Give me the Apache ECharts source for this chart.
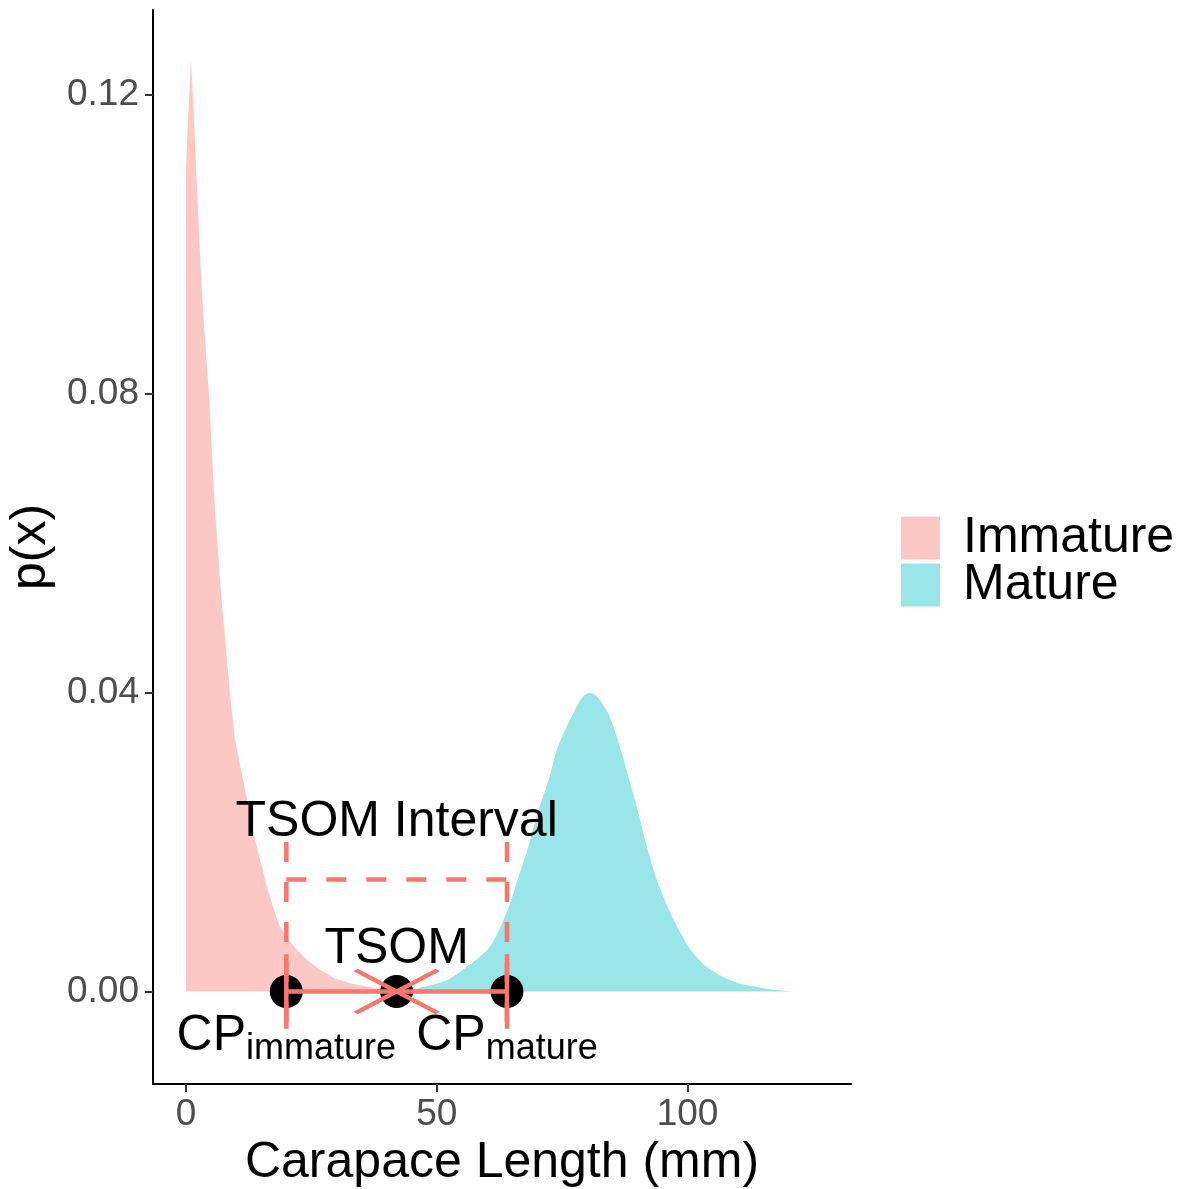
<!DOCTYPE html>
<html>
<head>
<meta charset="utf-8">
<title>Carapace length densities</title>
<script src="https://cdn.jsdelivr.net/npm/echarts@6/dist/echarts.min.js"></script>
<style>
  html, body { margin: 0; padding: 0; background: #ffffff; }
  #chart { width: 1182px; height: 1189px; }
</style>
</head>
<body>
<div id="chart"></div>
<script>
// Density of carapace length for immature individuals (x in mm, p(x))
const immatureX = [0, 0.35, 1.0, 1.66, 2.65, 3.25, 4.65, 5.65, 7.1, 8.9, 9.77, 11.76, 13.76, 16.3, 18.4, 20, 22.1, 24, 26.7, 29.5, 32.7, 38, 45, 50];
const immatureY = [0.110, 0.116, 0.1247, 0.1157, 0.1006, 0.0926, 0.0792, 0.0658, 0.0524, 0.0390, 0.0337, 0.0270, 0.0203, 0.0136, 0.0092, 0.0072, 0.0056, 0.0043, 0.0029, 0.0018, 0.0011, 0.0004, 0.0001, 0.0];

// Density of carapace length for mature individuals
const matureX = [40, 44, 46.7, 52, 56, 60.6, 63.9, 66.1, 68.3, 70.1, 72.3, 74.2, 77.2, 79, 80.6, 82.3, 84.2, 86.5, 88.4, 90.2, 91.9, 93.9, 96.6, 100.2, 103.8, 108.5, 114.5, 121];
const matureY = [0.0, 0.0002, 0.0005, 0.0015, 0.0033, 0.0060, 0.0105, 0.0149, 0.0194, 0.0239, 0.0283, 0.0328, 0.0372, 0.0394, 0.0400, 0.0392, 0.0372, 0.0328, 0.0283, 0.0239, 0.0194, 0.0149, 0.0105, 0.0060, 0.0033, 0.0015, 0.0005, 0.0];

// Change points and the size at maturity estimate (mm)
const cpImmature = 20;
const tsom = 42;
const cpMature = 64;

// Axis ticks
const xTicks = [0, 50, 100];
const yTicks = [0, 0.04, 0.08, 0.12];

const seriesNames = ['Immature', 'Mature'];

// Vertical placement of the annotation elements (p(x) units)
const intervalTop = 0.02;
const intervalBar = 0.015;
const capHalf = 0.005;
const intervalLabelY = 0.0226;
const tsomLabelY = 0.0056;
const cpLabelY = -0.0060;

const pink = '#F8766D';
const FONT = '"Liberation Sans", Arial, sans-serif';

function pairs(xs, ys) { return xs.map((x, i) => [x, ys[i]]); }

const solidRed = { color: pink, width: 4.5, type: 'solid', cap: 'butt', opacity: 1 };
const dashedRed = { color: pink, width: 4.5, type: [20, 20], cap: 'butt', opacity: 1 };

function segment(points, lineStyle, z) {
  return {
    type: 'line', data: points, symbol: 'none', silent: true, z: z,
    lineStyle: lineStyle, animation: false
  };
}

function textMark(x, y, formatter, rich) {
  return {
    type: 'scatter', data: [[x, y]], symbolSize: 0, silent: true, z: 10,
    itemStyle: { opacity: 1 },
    label: {
      show: true, position: 'inside', formatter: formatter,
      color: '#000', fontFamily: FONT, fontSize: 50, align: 'center', verticalAlign: 'middle',
      rich: rich || {}
    }
  };
}

const chart = echarts.init(document.getElementById('chart'), null, { renderer: 'canvas' });

// "CP" with a lowered, smaller subscript
const cpRich = {
  cp: { fontFamily: FONT, fontSize: 50, color: '#000' },
  sub: { fontFamily: FONT, fontSize: 36, color: '#000', padding: [25, 0, 0, 0] }
};

chart.setOption({
  animation: false,
  backgroundColor: '#ffffff',
  grid: { left: 153, right: 331, top: 10, bottom: 105, containLabel: false, outerBoundsMode: 'none' },
  legend: {
    orient: 'vertical', left: 896, top: 508,
    itemWidth: 39, itemHeight: 43, itemGap: -3,
    selectedMode: false,
    textStyle: { fontFamily: FONT, fontSize: 50, color: '#000', padding: [0, 0, 0, 18] },
    data: [
      { name: seriesNames[0], icon: 'rect', itemStyle: { color: '#FCC8C5', borderWidth: 0, opacity: 1 } },
      { name: seriesNames[1], icon: 'rect', itemStyle: { color: '#99E5E7', borderWidth: 0, opacity: 1 } }
    ]
  },
  xAxis: {
    type: 'value', min: -6.58, max: 132.6,
    name: 'Carapace Length (mm)', nameLocation: 'middle', nameGap: 54,
    nameTextStyle: { fontFamily: FONT, fontSize: 50, color: '#000' },
    axisLine: { show: true, onZero: false, lineStyle: { color: '#000', width: 2 } },
    axisTick: { show: true, length: 8, customValues: xTicks, lineStyle: { color: '#333', width: 2 } },
    axisLabel: { customValues: xTicks, fontFamily: FONT, fontSize: 37, color: '#4D4D4D', margin: 12 },
    splitLine: { show: false }
  },
  yAxis: {
    type: 'value', min: -0.01238, max: 0.13138,
    name: 'p(x)', nameLocation: 'middle', nameGap: 92,
    nameTextStyle: { fontFamily: FONT, fontSize: 50, color: '#000' },
    axisLine: { show: true, onZero: false, lineStyle: { color: '#000', width: 2 } },
    axisTick: { show: true, length: 8, customValues: yTicks, lineStyle: { color: '#333', width: 2 } },
    axisLabel: {
      customValues: yTicks, fontFamily: FONT, fontSize: 37, color: '#4D4D4D', margin: 14,
      formatter: v => v.toFixed(2)
    },
    splitLine: { show: false }
  },
  series: [
    {
      name: seriesNames[0], type: 'line', data: pairs(immatureX, immatureY),
      symbol: 'none', silent: true, z: 1,
      itemStyle: { color: '#FCC8C5' },
      lineStyle: { width: 0, opacity: 0 },
      areaStyle: { color: 'rgba(248,118,109,0.4)', origin: 0, opacity: 1 }
    },
    {
      name: seriesNames[1], type: 'line', data: pairs(matureX, matureY),
      symbol: 'none', silent: true, z: 1, smooth: 0.3,
      itemStyle: { color: '#99E5E7' },
      lineStyle: { width: 0, opacity: 0 },
      areaStyle: { color: 'rgba(0,191,196,0.4)', origin: 0, opacity: 1 }
    },
    // change points and TSOM
    {
      type: 'scatter', data: [[cpImmature, 0], [tsom, 0], [cpMature, 0]],
      symbol: 'circle', symbolSize: 33, silent: true, z: 3,
      itemStyle: { color: '#000', opacity: 1 }
    },
    // TSOM interval (dashed bracket)
    segment([[cpImmature, intervalTop], [cpImmature, -capHalf]], dashedRed, 4),
    segment([[cpMature, intervalTop], [cpMature, -capHalf]], dashedRed, 4),
    segment([[cpImmature, intervalBar], [cpMature, intervalBar]], dashedRed, 4),
    // horizontal error bar between the change points
    segment([[cpImmature, 0], [cpMature, 0]], solidRed, 5),
    segment([[cpImmature, -capHalf], [cpImmature, capHalf]], solidRed, 5),
    segment([[cpMature, -capHalf], [cpMature, capHalf]], solidRed, 5),
    // cross marking the TSOM estimate
    {
      type: 'scatter', data: [[tsom, 0]], silent: true, z: 6,
      symbol: 'path://M0,0L2,1M0,1L2,0', symbolSize: [82, 43],
      itemStyle: { color: 'rgba(0,0,0,0)', borderColor: pink, borderWidth: 4.5, opacity: 1 }
    },
    textMark(tsom, intervalLabelY, 'TSOM Interval'),
    textMark(tsom, tsomLabelY, 'TSOM'),
    textMark(cpImmature, cpLabelY, '{cp|CP}{sub|immature}', cpRich),
    textMark(cpMature, cpLabelY, '{cp|CP}{sub|mature}', cpRich)
  ]
});
</script>
</body>
</html>
